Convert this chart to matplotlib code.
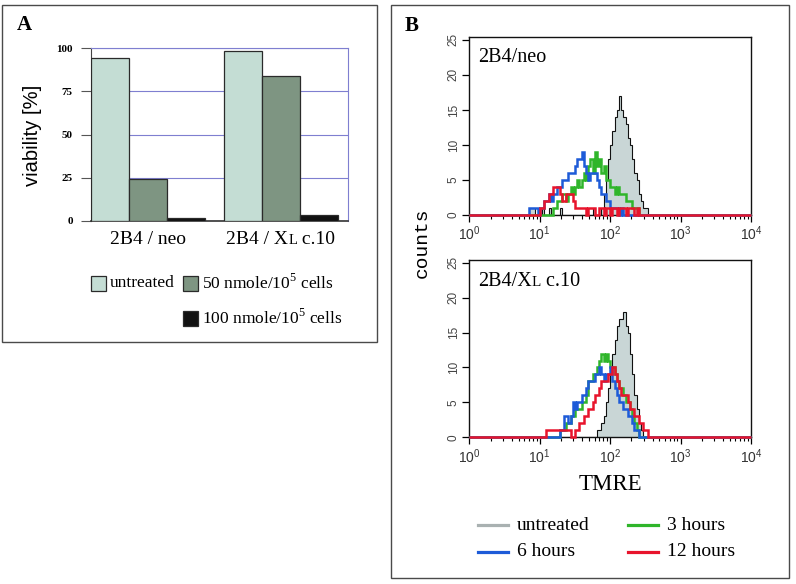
import numpy as np
import matplotlib

matplotlib.use("Agg")
import matplotlib.pyplot as plt  # noqa: E402
from matplotlib.patches import Rectangle  # noqa: E402
from matplotlib.lines import Line2D  # noqa: E402
from matplotlib.offsetbox import AnnotationBbox, HPacker, TextArea  # noqa: E402
from matplotlib.ticker import LogLocator, NullFormatter  # noqa: E402

W, H = 796, 584
SERIF = "Liberation Serif"
SANS = "Liberation Sans"
MONO = "Liberation Mono"

# ---------------- panel A: viability bars ----------------
cell_lines = ["2B4 / neo", "2B4 / XL c.10"]
treatments = ["untreated",
              "50 nmole/10$^{\\mathregular{5}}$ cells",
              "100 nmole/10$^{\\mathregular{5}}$ cells"]
viab_untreated = [94, 98]
viab_50 = [24, 84]
viab_100 = [1.5, 3.5]
bar_colors = ["#c4ddd4", "#7e9582", "#111111"]

# ---------------- panel B: TMRE histograms ----------------
# 128 channels over four decades; each series = (first channel, counts)
N_CHANNELS = 128
CH_PER_DECADE = 32

neo_untreated = (27, [1, 1, 1, 0, 0, 0, 1, 0, 0, 1, 0, 0, 0, 0, 1, 0,
                      0, 0, 0, 0, 0, 0, 0, 0, 0, 0, 0, 0, 0, 1, 0, 0, 0,
                      1, 3, 5, 8, 10, 12, 14, 15, 17, 15, 14, 13, 11, 10, 8, 6,
                      5, 3, 2, 1, 1])
neo_3h = (38, [1, 1, 2, 2, 3, 3, 2, 3, 4, 3, 4, 5, 4, 5, 6, 5, 7, 8, 6, 9,
               7, 8, 6, 7, 5, 5, 4, 4, 3, 4, 3, 3, 3, 2, 2, 2, 1, 1, 1])
neo_6h = (27, [1, 1, 1, 1, 0, 1, 1, 2, 2, 3, 2, 3, 3, 4, 4, 5, 5, 5, 6, 6,
               6, 7, 8, 8, 9, 7, 6, 5, 6, 6, 6, 5, 4, 3, 3, 2, 2, 1, 1, 1,
               1, 0, 1])
neo_12h = (32, [1, 1, 2, 2, 3, 3, 4, 4, 4, 3, 2, 2, 3, 3, 3, 2, 1, 1, 1, 1,
                1, 0, 1, 1, 1, 0, 0, 1, 1, 0, 1, 1, 0, 1, 1, 0, 1, 1, 1, 0,
                1, 1, 1, 0, 1])

xl_untreated = (58, [1, 1, 2, 3, 5, 7, 9, 12, 14, 16, 17, 17, 18, 16, 15, 12,
                     9, 6, 4, 2, 1])
xl_3h = (41, [1, 1, 1, 2, 2, 3, 3, 4, 4, 4, 5, 5, 6, 8, 8, 9, 9, 10, 11, 12,
              11, 12, 11, 10, 10, 9, 8, 7, 7, 6, 5, 5, 4, 3, 2, 1])
xl_6h = (41, [1, 1, 3, 3, 2, 3, 5, 4, 5, 5, 6, 6, 7, 8, 8, 8, 9, 9, 10, 9,
              8, 9, 9, 10, 8, 7, 6, 5, 5, 4, 4, 3, 3, 2, 1, 1])
xl_12h = (35, [1, 1, 1, 1, 1, 1, 1, 1, 1, 1, 1, 0, 0, 1, 1, 2, 2, 3, 3, 4,
               4, 5, 6, 6, 7, 8, 8, 8, 9, 9, 10, 9, 8, 7, 6, 6, 6, 5, 4, 4,
               3, 3, 2, 2, 1, 1])

hist_labels = ["untreated", "3 hours", "6 hours", "12 hours"]
hist_colors = ["#a9b1b1", "#2fb52a", "#1d5bd8", "#e8142c"]
FILL = "#c9d6d6"


def full_counts(series):
    start, counts = series
    out = np.zeros(N_CHANNELS)
    out[start:start + len(counts)] = counts
    return out


def px_rect(left, top, right, bottom):
    return [left / W, 1 - bottom / H, (right - left) / W, (bottom - top) / H]


def fx(x):
    return x / W


def fy(y):
    return 1 - y / H


def smallcap_label(ax, text, size, xy, xycoords, align):
    """Draw text where 'XL' is written with a small-capital L."""
    if "XL" in text:
        head, tail = text.split("XL", 1)
        parts = [(head + "X", size), ("L", size * 0.75), (tail, size)]
    else:
        parts = [(text, size)]
    boxes = [TextArea(s, textprops=dict(family=SERIF, fontsize=fs)) for s, fs in parts]
    pack = HPacker(children=boxes, align="baseline", pad=0, sep=0)
    ab = AnnotationBbox(pack, xy, xycoords=xycoords, box_alignment=(align, 0.5),
                        frameon=False, pad=0, annotation_clip=False)
    ax.add_artist(ab)
    return ab


fig = plt.figure(figsize=(W / 100, H / 100), dpi=100)

# frames round the two panels
for l, t, r, b in [(2, 5, 377, 342), (391, 5, 789, 578)]:
    fig.add_artist(Rectangle((fx(l), fy(b)), (r - l) / W, (b - t) / H,
                             transform=fig.transFigure, fill=False,
                             ec="#4a4a4a", lw=1.0))

fig.text(fx(24), fy(25), "A", family=SERIF, weight="bold", fontsize=15,
         ha="center", va="center")
fig.text(fx(412), fy(26), "B", family=SERIF, weight="bold", fontsize=15,
         ha="center", va="center")

# ---- panel A ----
GRID = "#7f7fd0"
axA = fig.add_axes(px_rect(90.7, 48, 348, 221))
group_x = np.array([0.0, 3.5])
for i, (vals, col) in enumerate(zip([viab_untreated, viab_50, viab_100], bar_colors)):
    axA.bar(group_x + i, vals, width=1.0, color=col, edgecolor="#2a2a2a",
            lw=0.9, zorder=3)
axA.set_xlim(-0.52, 6.27)
axA.set_ylim(0, 100)
axA.set_yticks([0, 25, 50, 75, 100])
axA.set_yticklabels(["0", "25", "50", "75", "100"], family=SERIF,
                    weight="bold", fontsize=8)
axA.yaxis.grid(True, color=GRID, lw=0.8, zorder=0)
axA.tick_params(axis="y", length=7, width=0.8, color="#555", pad=6)
axA.set_xticks([])
for s in ("top", "right"):
    axA.spines[s].set_color(GRID)
    axA.spines[s].set_linewidth(0.8)
axA.spines["left"].set_color("#444")
axA.spines["bottom"].set_color("#333")
axA.spines["bottom"].set_linewidth(1.2)

fig.text(fx(33), fy(135), "viability [%]", family=SANS, fontsize=14.5,
         rotation=90, ha="center", va="center")

# category labels under the bar groups
for gx, name in zip(group_x + 1.0, cell_lines):
    smallcap_label(axA, name, 14, (gx, fy(239)), ("data", "figure fraction"), 0.5)

# legend of panel A
leg_rows = [(91, 283, 0), (183, 283, 1), (183, 318, 2)]
for x, y, k in leg_rows:
    fig.add_artist(Rectangle((fx(x), fy(y + 7.5)), 15 / W, 15 / H,
                             transform=fig.transFigure, fc=bar_colors[k],
                             ec="#2a2a2a", lw=0.9))
    fig.text(fx(x + 19), fy(y), treatments[k], family=SERIF, fontsize=12.5,
             ha="left", va="center")

# ---- panel B ----
edges = 10.0 ** (np.arange(N_CHANNELS + 1) / CH_PER_DECADE)
panels = [(37, 215, 58, "2B4/neo", [neo_untreated, neo_3h, neo_6h, neo_12h]),
          (260, 437.3, 281, "2B4/XL c.10", [xl_untreated, xl_3h, xl_6h, xl_12h])]
axes_b = []
for top, bottom, name_y, name, series in panels:
    ax = fig.add_axes(px_rect(469.3, top, 751, bottom))
    axes_b.append(ax)
    ax.stairs(full_counts(series[0]), edges, fill=True, facecolor=FILL,
              edgecolor="#111", lw=0.8, zorder=2)
    for z, (s, col) in enumerate(zip(series[1:], hist_colors[1:])):
        ax.stairs(full_counts(s), edges, color=col, lw=1.8, zorder=3 + z,
                  clip_on=False)
    ax.set_xscale("log")
    ax.set_xlim(1, 1e4)
    ax.set_ylim(0, 25.4)
    ax.set_yticks([0, 5, 10, 15, 20, 25])
    ax.xaxis.set_minor_locator(LogLocator(base=10, subs=np.arange(2, 10)))
    ax.xaxis.set_minor_formatter(NullFormatter())
    ax.tick_params(which="major", length=5, width=0.9, direction="out")
    ax.tick_params(which="minor", length=3, width=0.8, direction="out")
    ax.tick_params(axis="x", labelsize=10, labelcolor="#333", pad=2)
    ax.tick_params(axis="y", labelsize=8.5, labelcolor="#444", pad=2)
    for lab in ax.get_yticklabels():
        lab.set_rotation(90)
        lab.set_va("center")
        lab.set_family(SANS)
    for lab in ax.get_xticklabels():
        lab.set_family(SANS)
    for sp in ax.spines.values():
        sp.set_linewidth(1.0)
        sp.set_color("#111")
    smallcap_label(ax, name, 14.5, (fx(478), fy(name_y)), "figure fraction", 0.0)

fig.text(fx(422), fy(243), "counts", family=MONO, fontsize=14, rotation=90,
         ha="center", va="center")
fig.text(fx(610), fy(485), "TMRE", family=SERIF, fontsize=16.5,
         ha="center", va="center")

# legend of panel B
leg_b = [(478, 525, 0), (628, 525, 1), (478, 552, 2), (628, 552, 3)]
for x, y, k in leg_b:
    fig.add_artist(Line2D([fx(x), fx(x + 30)], [fy(y), fy(y)],
                          transform=fig.transFigure, color=hist_colors[k], lw=2.3))
    fig.text(fx(x + 39), fy(y), hist_labels[k], family=SERIF, fontsize=14,
             ha="left", va="center")

fig.savefig("out.png", dpi=100)
